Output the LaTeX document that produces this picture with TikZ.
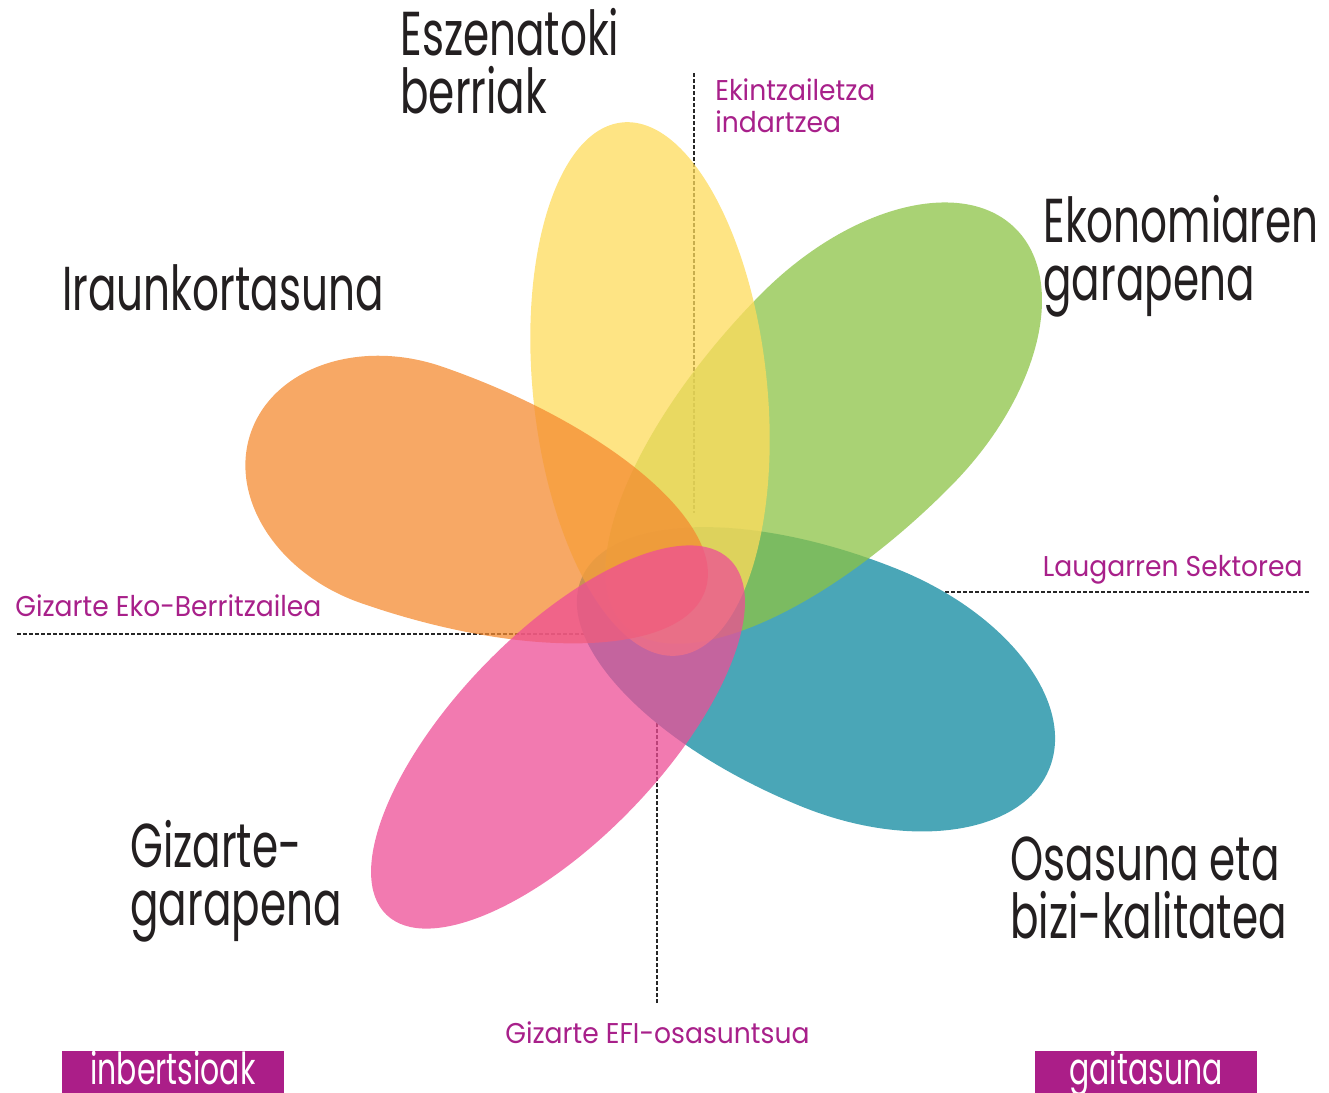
\documentclass[tikz,border=0pt]{standalone}
\usepackage{fontspec}
\newfontfamily\labelfont[FakeStretch=0.68]{Poppins}
\newfontfamily\notefont[FakeStretch=0.93]{Poppins}
\definecolor{textdark}{RGB}{35,31,32}
\definecolor{notemagenta}{RGB}{168,32,138}
\definecolor{boxmagenta}{RGB}{171,30,136}
\definecolor{petalteal}{RGB}{74,166,183}
\definecolor{petalgreen}{RGB}{140,195,69}
\definecolor{petalyellow}{RGB}{254,219,91}
\definecolor{petalorange}{RGB}{244,139,49}
\definecolor{petalpink}{RGB}{238,78,150}
\tikzset{
	petal/.style={fill opacity=0.75},
	theme/.style={
		text=textdark,
		font=\labelfont\fontsize{31pt}{29pt}\selectfont,
		align=left,
		anchor=base west,
		inner sep=0pt,
	},
	note/.style={
		text=notemagenta,
		font=\notefont\fontsize{14.3pt}{16pt}\selectfont,
		align=left,
		anchor=base west,
		inner sep=0pt,
	},
	guide/.style={
		draw=black!85,
		line width=0.7pt,
		dash pattern=on 2pt off 1pt,
	},
	tag/.style={
		fill=boxmagenta,
		minimum width=111pt,
		minimum height=21pt,
		anchor=north west,
		inner sep=0pt,
	},
	tagtext/.style={
		text=white,
		font=\labelfont\fontsize{22pt}{24pt}\selectfont,
		anchor=base,
		inner sep=0pt,
	},
}
% petal: style, centre x, centre y, angle, outer radius, inner radius, half width
\newcommand{\drawpetal}[7]{%
	\fill[#1, shift={(#2,#3)}, rotate=#4]
		(#5,0) arc[start angle=0, end angle=90, x radius=#5, y radius=#7]
		arc[start angle=90, end angle=270, x radius=#6, y radius=#7]
		arc[start angle=270, end angle=360, x radius=#5, y radius=#7] -- cycle;}

\begin{document}
\begin{tikzpicture}[x=0.5pt, y=-0.5pt]
	\useasboundingbox (0,0) rectangle (1329,1093);

	% guide lines
	\coordinate (northout) at (694,73);
	\coordinate (northin) at (694,513);
	\coordinate (westout) at (17,634);
	\coordinate (westin) at (590,634);
	\coordinate (eastout) at (1309,592);
	\coordinate (eastin) at (938,592);
	\coordinate (southout) at (657,1003);
	\coordinate (southin) at (657,715);
	\draw[guide] (northout) -- (northin);
	\draw[guide] (westout) -- (westin);
	\draw[guide] (eastout) -- (eastin);
	\draw[guide] (southout) -- (southin);

	% petals
	\drawpetal{fill=petalteal}{850}{688}{-22}{215}{290}{128}
	\drawpetal{petal, fill=petalgreen}{856}{390}{45.5}{227}{330}{135}
	\drawpetal{petal, fill=petalyellow}{650}{389}{96}{268}{268}{117}
	\drawpetal{petal, fill=petalorange}{402}{485}{160.8}{160}{321}{125}
	\drawpetal{petal, fill=petalpink}{558}{737}{226}{247}{247}{103}

	% themes (anchor on the last line)
	\node[theme] (scenarios) at (400,113) {Eszenatoki\\berriak};
	\node[theme] (sustain) at (62,310) {Iraunkortasuna};
	\node[theme] (economy) at (1043,300) {Ekonomiaren\\garapena};
	\node[theme] (social) at (130,925) {Gizarte-\\garapena};
	\node[theme] (health) at (1010,938) {Osasuna eta\\bizi-kalitatea};

	% notes
	\node[note] (entrepreneur) at (715,132) {Ekintzailetza\\indartzea};
	\node[note] (ecoinnov) at (15,616) {Gizarte Eko-Berritzailea};
	\node[note, anchor=base east] (fourth) at (1303,576) {Laugarren Sektorea};
	\node[note] (efi) at (505,1043) {Gizarte EFI-osasuntsua};

	% tags
	\node[tag] (invest) at (62,1051) {};
	\node[tagtext] (investtext) at (173,1084) {inbertsioak};
	\node[tag] (skill) at (1035,1051) {};
	\node[tagtext] (skilltext) at (1146,1084) {gaitasuna};
\end{tikzpicture}
\end{document}
